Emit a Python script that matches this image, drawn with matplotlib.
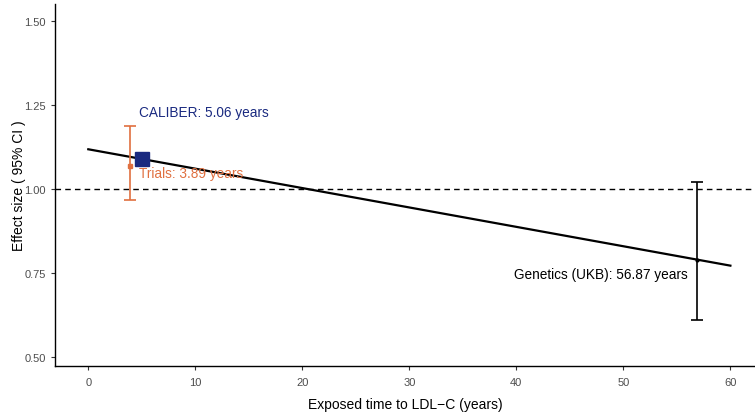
import matplotlib
matplotlib.use("Agg")
import matplotlib.pyplot as plt
import numpy as np

plt.rcParams['font.family'] = ['Liberation Sans', 'DejaVu Sans']

# Study estimates
trial_x = 3.89
trial_est, trial_lo, trial_hi = 1.068, 0.967, 1.188
caliber_x = 5.06
caliber_est = 1.089
gen_x = 56.87
gen_est, gen_lo, gen_hi = 0.79, 0.61, 1.02

# Fitted trend across exposure time
line_x = [0, 60]
line_y = [1.118, 0.772]

xticks = [0, 10, 20, 30, 40, 50, 60]
yticks = [0.50, 0.75, 1.00, 1.25, 1.50]

orange = '#E07040'
navy = '#1A2A80'

fig = plt.figure(figsize=(7.55, 4.14), dpi=100)
ax = fig.add_axes([0.073, 0.113, 0.927, 0.875])

ax.axhline(1.0, color='black', linestyle=(0, (4, 3)), linewidth=1.0, zorder=1)
ax.plot(line_x, line_y, color='black', linewidth=1.6, zorder=2)

ax.errorbar([trial_x], [trial_est],
            yerr=[[trial_est - trial_lo], [trial_hi - trial_est]],
            fmt='s', color=orange, markersize=3.5, elinewidth=1.2,
            capsize=4, capthick=1.2, zorder=3)
ax.plot([caliber_x], [caliber_est], marker='s', color=navy, markersize=10,
        linestyle='none', zorder=4)
ax.errorbar([gen_x], [gen_est],
            yerr=[[gen_est - gen_lo], [gen_hi - gen_est]],
            fmt='o', color='black', markersize=2, elinewidth=1.2,
            capsize=4, capthick=1.2, zorder=3)

ax.text(4.7, 1.229, 'CALIBER: 5.06 years', color=navy, fontsize=9.8,
        ha='left', va='center')
ax.text(4.7, 1.048, 'Trials: 3.89 years', color=orange, fontsize=9.8,
        ha='left', va='center')
ax.text(56.0, 0.747, 'Genetics (UKB): 56.87 years', color='black', fontsize=9.8,
        ha='right', va='center')

ax.set_xlim(-3.1, 62.3)
ax.set_ylim(0.473, 1.55)
ax.set_xticks(xticks)
ax.set_yticks(yticks)
ax.set_yticklabels([f'{v:.2f}' for v in yticks])
ax.tick_params(axis='both', colors='#4D4D4D', labelsize=8, length=3, width=0.8)
ax.tick_params(axis='both', which='both', color='#333333')
ax.tick_params(axis='x', pad=5)

for s in ['top', 'right']:
    ax.spines[s].set_visible(False)
for s in ['left', 'bottom']:
    ax.spines[s].set_linewidth(1.0)

ax.set_xlabel('Exposed time to LDL\u2212C (years)', fontsize=10, labelpad=7)
ax.set_ylabel('Effect size ( 95% CI )', fontsize=10, labelpad=-1)

fig.savefig('out.png', dpi=100)
